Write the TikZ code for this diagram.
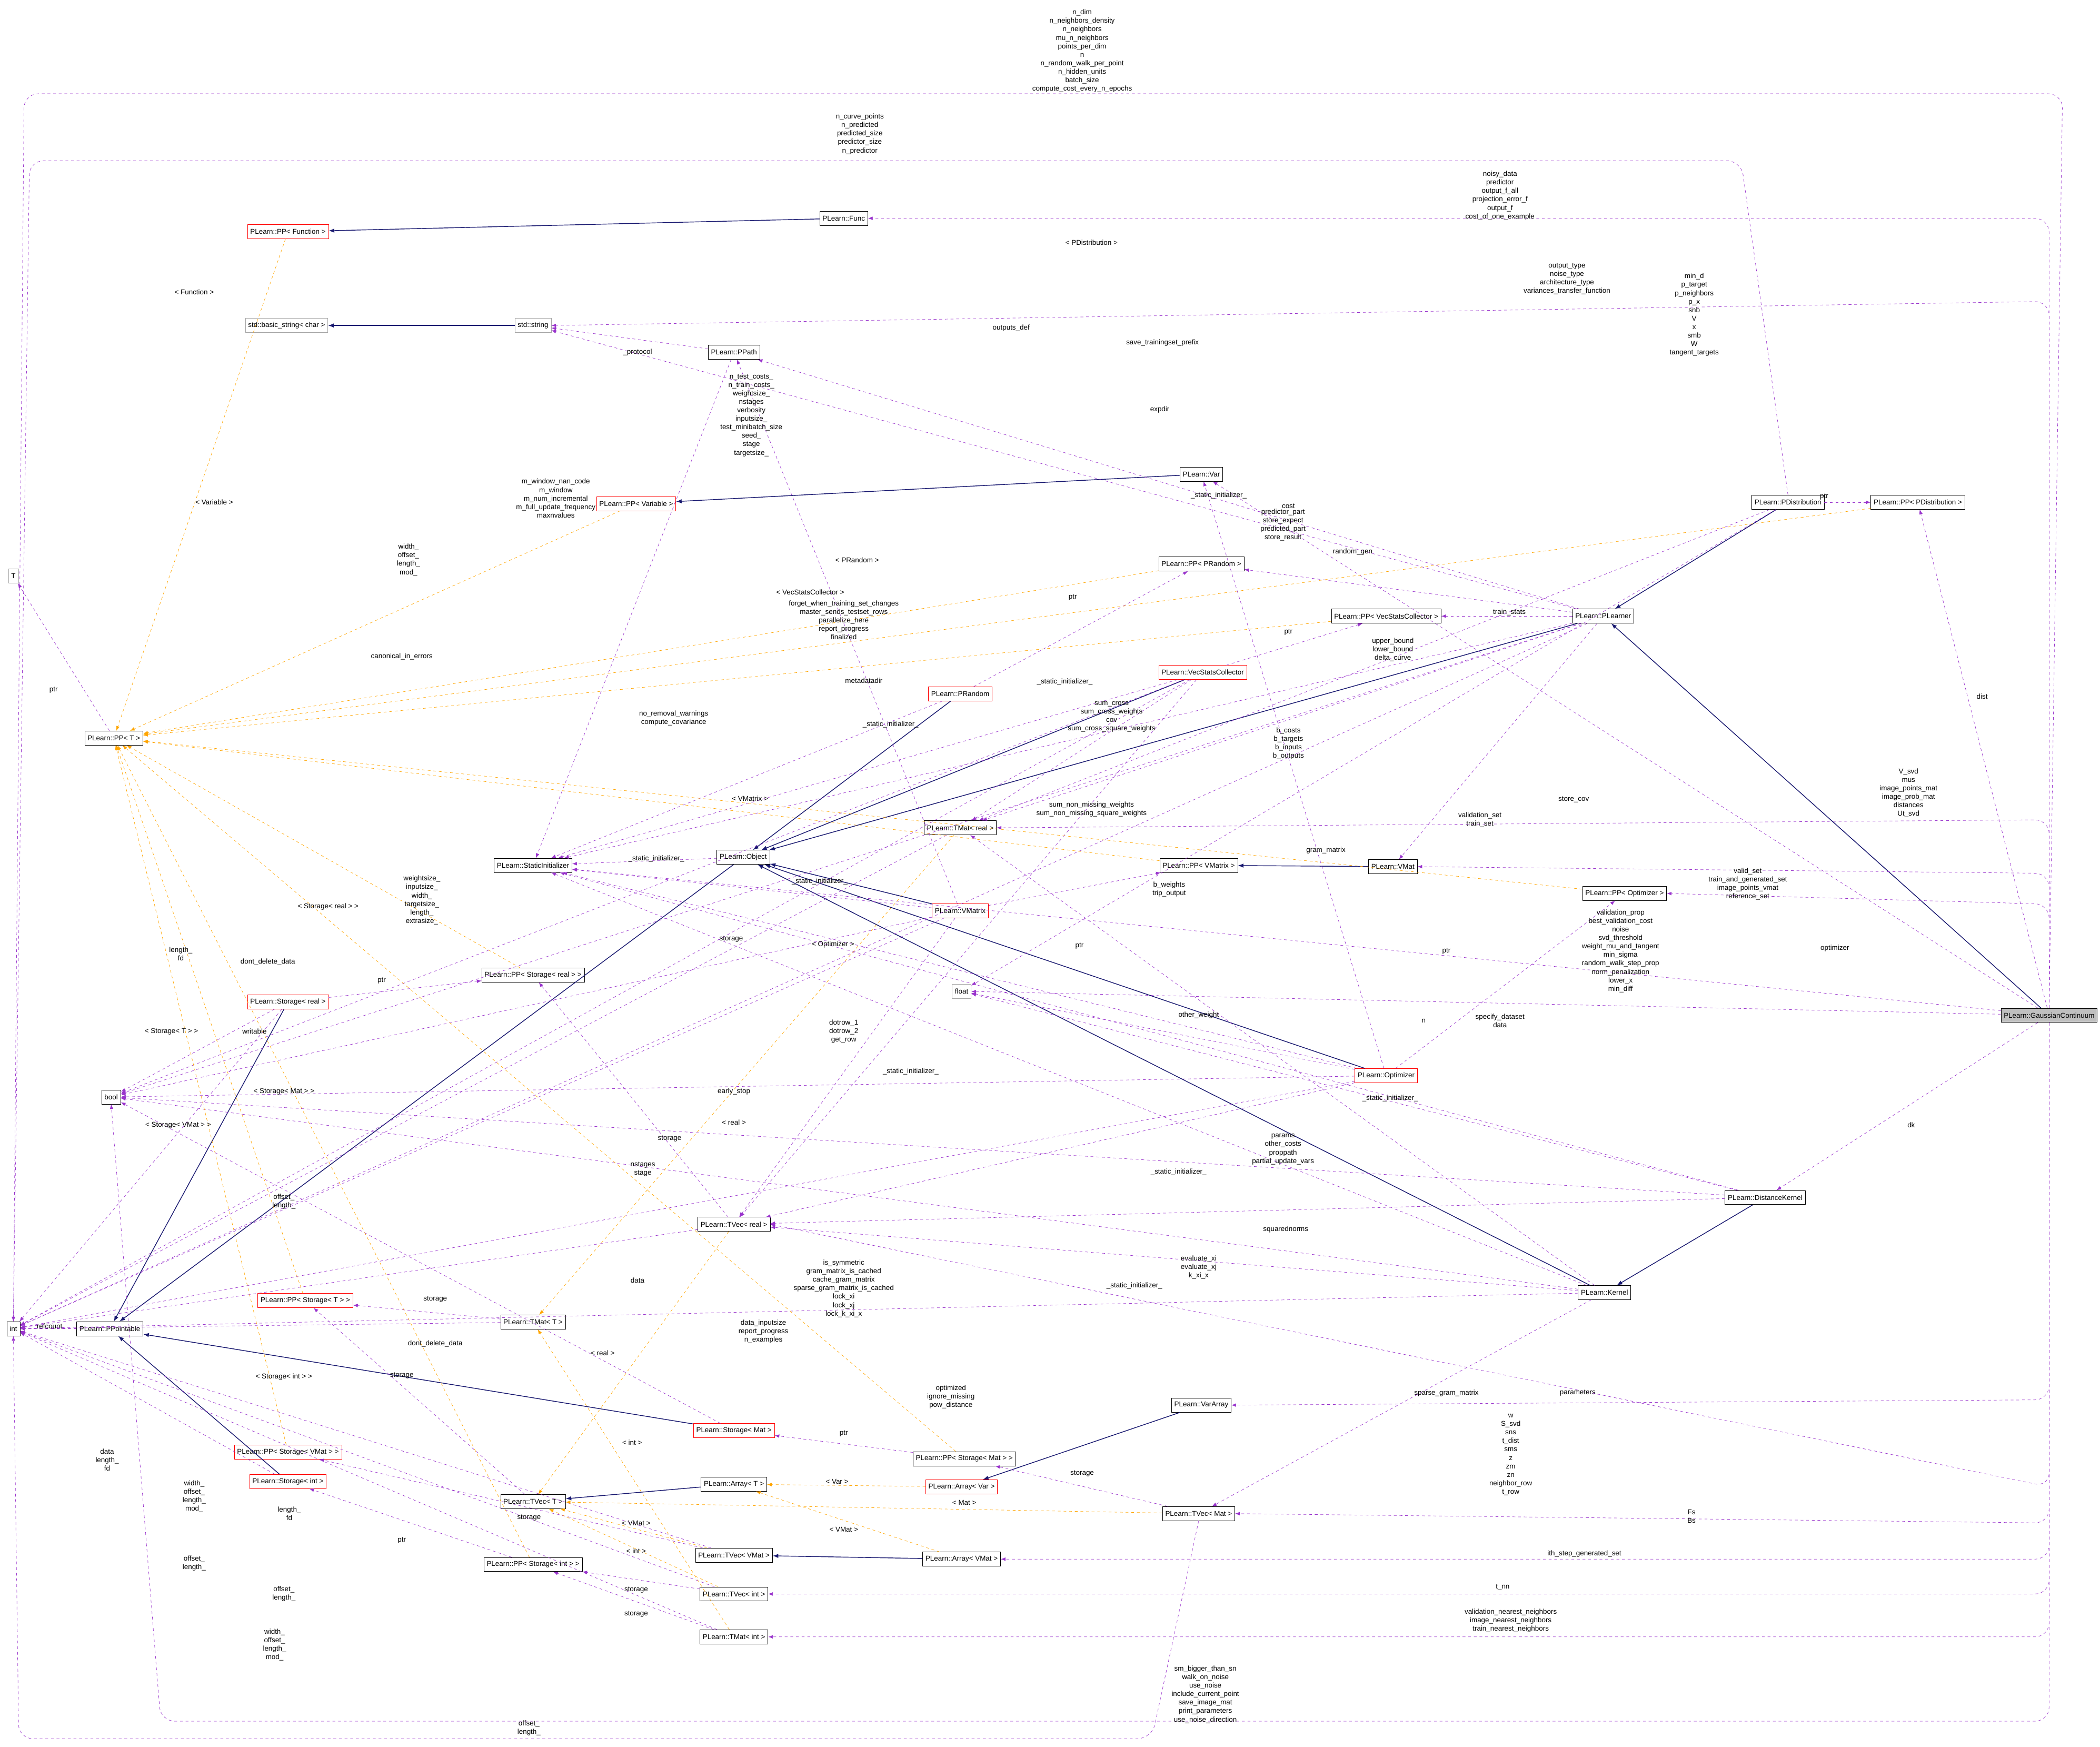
\documentclass[tikz,border=0pt]{standalone}
\usepackage{fontspec}
\setmainfont{Liberation Sans}
\usetikzlibrary{arrows.meta}
\definecolor{usecol}{RGB}{153,51,204}
\definecolor{tplcol}{RGB}{255,165,0}
\definecolor{inhcol}{RGB}{25,25,112}
\begin{document}
\begin{tikzpicture}[x=0.5mm,y=-0.5mm,
			cls/.style   = {draw, fill=white, inner xsep=3pt, minimum height=15pt, font=\fontsize{7.5}{8}\selectfont},
			redcls/.style = {cls, draw=red},
			graycls/.style = {cls, draw=gray!70},
			lbl/.style  = {align=center, inner sep=0pt, font=\fontsize{7.5}{9}\selectfont},
			use/.style  = {draw=usecol, dashed, -{Latex[length=5pt]}},
			tpl/.style  = {draw=tplcol, dashed, -{Latex[length=5pt]}},
			inh/.style  = {draw=inhcol, thick, -{Latex[length=6pt]}},
			>=latex]
			\useasboundingbox (0,0) rectangle (1568,1304);
			
			% class boxes
			\node[cls, fill=gray!50] (gc) at (1530,758) {PLearn::GaussianContinuum};
			\node[cls] (func) at (630,163) {PLearn::Func};
			\node[redcls] (ppfunc) at (215,173) {PLearn::PP< Function >};
			\node[graycls] (bstring) at (214,243) {std::basic\_string< char >};
			\node[graycls] (string) at (398,243) {std::string};
			\node[cls] (ppath) at (548,263) {PLearn::PPath};
			\node[graycls] (tT) at (10,430) {T};
			\node[redcls] (ppvar) at (475,376) {PLearn::PP< Variable >};
			\node[cls] (var) at (897,354) {PLearn::Var};
			\node[cls] (pdist) at (1335,375) {PLearn::PDistribution};
			\node[cls] (pppdist) at (1432,375) {PLearn::PP< PDistribution >};
			\node[cls] (pprand) at (897,421) {PLearn::PP< PRandom >};
			\node[cls] (ppvsc) at (1035,460) {PLearn::PP< VecStatsCollector >};
			\node[cls] (plearner) at (1197,460) {PLearn::PLearner};
			\node[redcls] (vsc) at (898,502) {PLearn::VecStatsCollector};
			\node[redcls] (prand) at (717,518) {PLearn::PRandom};
			\node[cls] (ppt) at (85,551) {PLearn::PP< T >};
			\node[cls] (tmatreal) at (717,618) {PLearn::TMat< real >};
			\node[cls] (object) at (555,640) {PLearn::Object};
			\node[cls] (statinit) at (398,646) {PLearn::StaticInitializer};
			\node[cls] (ppvmatrix) at (895,646) {PLearn::PP< VMatrix >};
			\node[cls] (vmat) at (1040,647) {PLearn::VMat};
			\node[cls] (ppopt) at (1213,667) {PLearn::PP< Optimizer >};
			\node[redcls] (vmatrix) at (717,680) {PLearn::VMatrix};
			\node[cls] (ppstreal) at (398,728) {PLearn::PP< Storage< real > >};
			\node[graycls] (float) at (718,740) {float};
			\node[redcls] (streal) at (215,748) {PLearn::Storage< real >};
			\node[cls] (bool) at (83,819) {bool};
			\node[redcls] (opt) at (1035,803) {PLearn::Optimizer};
			\node[cls] (tvecreal) at (548,914) {PLearn::TVec< real >};
			\node[cls] (dkernel) at (1318,894) {PLearn::DistanceKernel};
			\node[cls] (kernel) at (1198,965) {PLearn::Kernel};
			\node[redcls] (ppstT) at (228,971) {PLearn::PP< Storage< T > >};
			\node[cls] (tmatT) at (398,987) {PLearn::TMat< T >};
			\node[cls] (int) at (10,992) {int};
			\node[cls] (ppoint) at (82,992) {PLearn::PPointable};
			\node[cls] (vararray) at (897,1049) {PLearn::VarArray};
			\node[redcls] (stmat) at (548,1068) {PLearn::Storage< Mat >};
			\node[cls] (ppstmat) at (720,1089) {PLearn::PP< Storage< Mat > >};
			\node[redcls] (ppstvmat) at (215,1084) {PLearn::PP< Storage< VMat > >};
			\node[redcls] (stint) at (215,1106) {PLearn::Storage< int >};
			\node[cls] (arrayT) at (548,1108) {PLearn::Array< T >};
			\node[redcls] (arrayvar) at (718,1110) {PLearn::Array< Var >};
			\node[cls] (tvecT) at (398,1121) {PLearn::TVec< T >};
			\node[cls] (tvecmat) at (895,1130) {PLearn::TVec< Mat >};
			\node[cls] (tvecvmat) at (548,1161) {PLearn::TVec< VMat >};
			\node[cls] (arrayvmat) at (718,1164) {PLearn::Array< VMat >};
			\node[cls] (ppstint) at (398,1168) {PLearn::PP< Storage< int > >};
			\node[cls] (tvecint) at (548,1190) {PLearn::TVec< int >};
			\node[cls] (tmatint) at (548,1222) {PLearn::TMat< int >};
			
			% inheritance
			\foreach \a/\b in {func/ppfunc, string/bstring, var/ppvar, pdist/plearner, plearner/object,
				vsc/object, prand/object, vmatrix/object, opt/object, kernel/object, dkernel/kernel,
				vmat/ppvmatrix, streal/ppoint, object/ppoint, stmat/ppoint, stint/ppoint,
				vararray/arrayvar, arrayT/tvecT, arrayvmat/tvecvmat, gc/plearner}
			\draw[inh] (\a) -- (\b);
			
			% usage, routed round the picture
			\draw[use, rounded corners=15pt] (gc.north) -- (1540,70) -- (18,70) -- (int.north);
			\draw[use, rounded corners=15pt] (pdist.north) -- (1300,120) -- (22,120) -- (int.north);
			\draw[use, rounded corners=15pt] (gc.south) -- (1530,1285) -- (120,1285) -- (bool.south);
			\draw[use, rounded corners=15pt] (tvecmat.south) -- (860,1298) -- (14,1298) -- (int.south);
			
			% usage from the continuum, out along its right side
			\foreach \b/\y in {func/163, string/225, ppopt/675, vmat/652, tmatreal/612}
			\draw[use, rounded corners=15pt] (gc.north) -- (1530,\y) -- (\b.east);
			\foreach \b/\y in {vararray/1045, tvecreal/1110, tvecmat/1137, arrayvmat/1164,
				tvecint/1190, tmatint/1222}
			\draw[use, rounded corners=15pt] (gc.south) -- (1530,\y) -- (\b.east);
			
			% usage, straight
			\foreach \a/\b in {gc/var, plearner/string, plearner/ppath, ppath/string,
				ppath/statinit, plearner/int, vsc/int, plearner/statinit, opt/var, plearner/pprand,
				pdist/tmatreal, prand/pprand, vsc/ppvsc, plearner/ppvsc, plearner/bool, tmatreal/int,
				ppt/tT, pdist/float, vmatrix/ppath, vsc/bool, vsc/statinit, prand/statinit,
				vsc/tmatreal, plearner/tmatreal, object/statinit, vsc/tvecreal, plearner/vmat,
				kernel/tmatreal, vmatrix/ppvmatrix, vmatrix/statinit,
				vmatrix/int, tvecreal/ppstreal, gc/float, opt/ppopt, streal/int,
				streal/bool, streal/ppstreal, vmatrix/bool, opt/float, dkernel/float, opt/bool,
				opt/statinit, gc/statinit, opt/tvecreal, opt/int, dkernel/statinit, gc/dkernel,
				tvecreal/int, dkernel/tvecreal, kernel/tvecreal, kernel/statinit, kernel/bool,
				tmatT/ppstT, kernel/int, stmat/bool, ppoint/int, tvecT/ppstT, dkernel/bool,
				kernel/tvecmat, ppstmat/stmat, stint/int, tmatT/int, tvecmat/ppstmat,
				ppstint/stint, tvecvmat/ppstvmat, tvecvmat/int,
				tvecint/ppstint, tvecint/int, tmatint/ppstint,
				tmatint/int, gc/pppdist, pdist/pppdist, vmatrix/tvecreal}
			\draw[use] (\a) -- (\b);
			
			% template instances
			\foreach \a/\b in {pppdist/ppt, ppfunc/ppt, ppvar/ppt, pprand/ppt, ppvsc/ppt, ppvmatrix/ppt,
				ppstreal/ppt, ppopt/ppt, ppstT/ppt, ppstmat/ppt, ppstvmat/ppt, ppstint/ppt,
				tmatreal/tmatT, tvecreal/tvecT, tmatint/tmatT, arrayvar/arrayT, tvecmat/tvecT,
				tvecvmat/tvecT, arrayvmat/arrayT, tvecint/tvecT}
			\draw[tpl] (\a) -- (\b);
			
			% edge labels
			\foreach \x/\y/\t [count=\i] in {
				808/38/{n\_dim\\n\_neighbors\_density\\n\_neighbors\\mu\_n\_neighbors\\points\_per\_dim\\n\\n\_random\_walk\_per\_point\\n\_hidden\_units\\batch\_size\\compute\_cost\_every\_n\_epochs},
				642/100/{n\_curve\_points\\n\_predicted\\predicted\_size\\predictor\_size\\n\_predictor},
				1120/146/{noisy\_data\\predictor\\output\_f\_all\\projection\_error\_f\\output\_f\\cost\_of\_one\_example},
				815/181/{< PDistribution >},
				1170/208/{output\_type\\noise\_type\\architecture\_type\\variances\_transfer\_function},
				1265/235/{min\_d\\p\_target\\p\_neighbors\\p\_x\\snb\\V\\x\\smb\\W\\tangent\_targets},
				755/245/{outputs\_def}, 868/256/{save\_trainingset\_prefix}, 866/306/{expdir},
				476/263/{\_protocol}, 145/218/{< Function >},
				561/310/{n\_test\_costs\_\\n\_train\_costs\_\\weightsize\_\\nstages\\verbosity\\inputsize\_\\test\_minibatch\_size\\seed\_\\stage\\targetsize\_},
				415/372/{m\_window\_nan\_code\\m\_window\\m\_num\_incremental\\m\_full\_update\_frequency\\maxnvalues},
				910/370/{\_static\_initializer\_}, 962/378/{cost},
				958/392/{predictor\_part\\store\_expect\\predicted\_part\\store\_result},
				1010/412/{random\_gen}, 160/375/{< Variable >}, 640/418/{< PRandom >},
				605/442/{< VecStatsCollector >}, 801/446/{ptr}, 962/472/{ptr}, 1127/457/{train\_stats},
				630/463/{forget\_when\_training\_set\_changes\\master\_sends\_testset\_rows\\parallelize\_here\\report\_progress\\finalized},
				305/418/{width\_\\offset\_\\length\_\\mod\_}, 40/515/{ptr}, 300/490/{canonical\_in\_errors},
				1040/485/{upper\_bound\\lower\_bound\\delta\_curve}, 645/508/{metadatadir},
				503/536/{no\_removal\_warnings\\compute\_covariance}, 795/509/{\_static\_initializer\_},
				665/541/{\_static\_initializer\_},
				830/535/{sum\_cross\\sum\_cross\_weights\\cov\\sum\_cross\_square\_weights},
				962/555/{b\_costs\\b\_targets\\b\_inputs\\b\_outputs}, 490/641/{\_static\_initializer\_},
				815/604/{sum\_non\_missing\_weights\\sum\_non\_missing\_square\_weights},
				1175/597/{store\_cov}, 1105/612/{validation\_set\\train\_set},
				1425/592/{V\_svd\\mus\\image\_points\_mat\\image\_prob\_mat\\distances\\Ut\_svd},
				560/596/{< VMatrix >}, 990/635/{gram\_matrix}, 806/706/{ptr},
				1305/660/{valid\_set\\train\_and\_generated\_set\\image\_points\_vmat\\reference\_set},
				612/658/{\_static\_initializer\_}, 245/677/{< Storage< real > >},
				315/672/{weightsize\_\\inputsize\_\\width\_\\targetsize\_\\length\_\\extrasize\_},
				546/701/{storage}, 873/664/{b\_weights\\trip\_output},
				1210/710/{validation\_prop\\best\_validation\_cost\\noise\\svd\_threshold\\weight\_mu\_and\_tangent\\min\_sigma\\random\_walk\_step\_prop\\norm\_penalization\\lower\_x\\min\_diff},
				1370/708/{optimizer}, 1080/710/{ptr}, 622/705/{< Optimizer >}, 135/712/{length\_\\fd},
				200/718/{dont\_delete\_data}, 285/732/{ptr}, 128/770/{< Storage< T > >},
				190/770/{writable}, 895/758/{other\_weight}, 1063/762/{n},
				1120/762/{specify\_dataset\\data}, 630/770/{dotrow\_1\\dotrow\_2\\get\_row},
				548/815/{early\_stop}, 212/815/{< Storage< Mat > >}, 680/800/{\_static\_initializer\_},
				1038/820/{\_static\_initializer\_}, 133/840/{< Storage< VMat > >}, 548/838/{< real >},
				500/850/{storage}, 958/858/{params\\other\_costs\\proppath\\partial\_update\_vars},
				480/873/{nstages\\stage}, 880/875/{\_static\_initializer\_}, 1427/840/{dk},
				212/897/{offset\_\\length\_}, 960/918/{squarednorms},
				895/946/{evaluate\_xi\\evaluate\_xj\\k\_xi\_x}, 847/960/{\_static\_initializer\_},
				630/962/{is\_symmetric\\gram\_matrix\_is\_cached\\cache\_gram\_matrix\\sparse\_gram\_matrix\_is\_cached\\lock\_xi\\lock\_xj\\lock\_k\_xi\_x},
				476/956/{data}, 325/970/{storage}, 570/994/{data\_inputsize\\report\_progress\\n\_examples},
				450/1010/{< real >}, 325/1003/{dont\_delete\_data}, 37/990/{refcount},
				300/1027/{storage}, 212/1028/{< Storage< int > >},
				710/1043/{optimized\\ignore\_missing\\pow\_distance}, 1080/1040/{sparse\_gram\_matrix},
				1178/1040/{parameters}, 630/1070/{ptr}, 80/1090/{data\\length\_\\fd},
				145/1117/{width\_\\offset\_\\length\_\\mod\_}, 472/1077/{< int >}, 625/1106/{< Var >},
				216/1130/{length\_\\fd}, 808/1100/{storage},
				1128/1086/{w\\S\_svd\\sns\\t\_dist\\sms\\z\\zm\\zn\\neighbor\_row\\t\_row},
				720/1122/{< Mat >}, 475/1137/{< VMat >}, 630/1142/{< VMat >}, 1263/1132/{Fs\\Bs},
				395/1133/{storage}, 300/1150/{ptr}, 475/1158/{< int >}, 145/1167/{offset\_\\length\_},
				1183/1160/{ith\_step\_generated\_set}, 475/1187/{storage}, 212/1190/{offset\_\\length\_},
				1122/1185/{t\_nn},
				1128/1210/{validation\_nearest\_neighbors\\image\_nearest\_neighbors\\train\_nearest\_neighbors},
				475/1205/{storage}, 205/1228/{width\_\\offset\_\\length\_\\mod\_},
				900/1265/{sm\_bigger\_than\_sn\\walk\_on\_noise\\use\_noise\\include\_current\_point\\save\_image\_mat\\print\_parameters\\use\_noise\_direction},
				395/1290/{offset\_\\length\_}, 1480/520/{dist}, 1362/371/{ptr}}
			\node[lbl] (lab\i) at (\x,\y) {\t};
		\end{tikzpicture}
\end{document}
